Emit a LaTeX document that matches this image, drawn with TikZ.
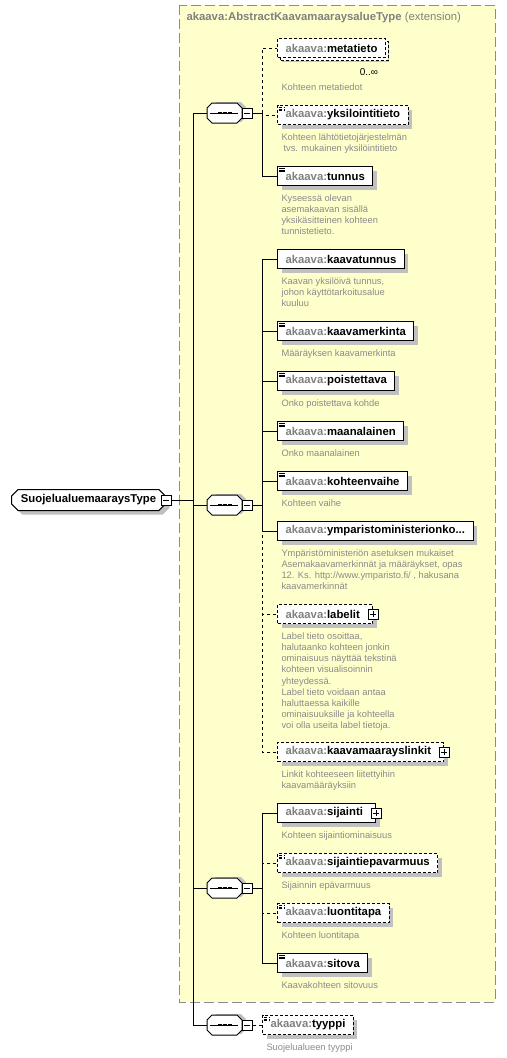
\documentclass[tikz,border=0pt]{standalone}
\usepackage{fontspec}
\setmainfont{Liberation Sans}
\usetikzlibrary{positioning,shapes.misc,shadows,calc}
\definecolor{extfill}{HTML}{FFFFCC}
\definecolor{extline}{HTML}{8C8C8C}
\definecolor{nsgrey}{HTML}{808080}
\definecolor{descgrey}{HTML}{8A8A8A}
\definecolor{shadowgrey}{HTML}{C0C0C0}
\newcommand\ns[1]{{\color{nsgrey}akaava:}#1}
\begin{document}
\begin{tikzpicture}[x=0.75pt,y=-0.75pt,line width=0.75pt,
		every node/.style={font=\fontsize{8.5}{10}\selectfont\bfseries},
		shade/.style={drop shadow={shadow xshift=3pt,shadow yshift=-3pt,fill=shadowgrey,opacity=1}},
		elem/.style={draw,fill=white,shade,anchor=west,minimum height=14.25pt,inner xsep=6pt,inner ysep=0pt},
		opt/.style={dash pattern=on 2.25pt off 1.5pt},
		optline/.style={dash pattern=on 2.25pt off 2.25pt},
		doc/.style={path picture={
			\foreach \dy in {1.2,2.5,3.8}
				\draw[line width=0.5pt] ([shift={(1.1pt,-\dy pt)}]path picture bounding box.north west) -- ++(4.5pt,0);}},
		more/.style={execute at end node={\hspace{3.5pt}}},
		many/.style={copy shadow={shadow xshift=2.25pt,shadow yshift=-2.25pt,draw=black,fill=white,opt}},
		desc/.style={font=\fontsize{7}{8.4}\selectfont,text=descgrey,align=left,inner sep=0pt,anchor=north west},
		pmbox/.style={draw,fill=white,minimum size=7.5pt,inner sep=0pt},
		minus/.style={pmbox,path picture={
			\draw ([xshift=1.5pt]path picture bounding box.west) -- ([xshift=-1.5pt]path picture bounding box.east);}},
		plus/.style={pmbox,path picture={
			\draw ([xshift=1.5pt]path picture bounding box.west) -- ([xshift=-1.5pt]path picture bounding box.east);
			\draw ([yshift=-1.5pt]path picture bounding box.north) -- ([yshift=1.5pt]path picture bounding box.south);}},
		seq/.style={minimum width=26.25pt,minimum height=15pt,inner sep=0pt}]
	\useasboundingbox (0,0) rectangle (507,1058);
	%extension
	\draw[extline,fill=extfill,dash pattern=on 7.5pt off 3pt] (179,5) rectangle (495,1002);
	\node[anchor=west,text=nsgrey,inner sep=0pt] (ext) at (186,18) {akaava:AbstractKaavamaaraysalueType {\mdseries (extension)}};
	%root
	\node[draw,fill=white,shade,chamfered rectangle,chamfered rectangle xsep=2.5pt,chamfered rectangle ysep=2.5pt,
		anchor=west,minimum width=115.5pt,minimum height=15.75pt,inner xsep=1pt,inner ysep=0pt] (root) at (11,500) {SuojelualuemaaraysType\hspace{7pt}};
	\node[minus] (rootpm) at (root.east) {};
	%compositors
	\foreach \s/\y in {A/113,B/505,C/888,D/1025}{
		\node[seq] (seq\s) at (224.5,\y) {};
		\fill[shadowgrey] ($(seq\s)+(-13.5,-6)$) -- ++(5,-5) -- ++(25,0) -- ++(5,5) -- ++(0,10) -- ++(-5,5) -- ++(-25,0) -- ++(-5,-5) -- cycle;
		\draw[fill=white] ($(seq\s)+(-17.5,-5)$) -- ++(5,-5) -- ++(25,0) -- ++(5,5) -- ++(0,10) -- ++(-5,5) -- ++(-25,0) -- ++(-5,-5) -- cycle;
		\draw ($(seq\s)+(-14.5,0)$) -- ($(seq\s)+(13.5,0)$);
		\draw[line width=2.2pt,dash pattern=on 3pt off 0.75pt] ($(seq\s)+(-7,0)$) -- ($(seq\s)+(7,0)$);
		\node[minus] (pm\s) at (247,\y) {};
		\coordinate (b\s) at (262,\y);
		\coordinate (t\s) at (193,\y);
	}
	%elements
	\node[elem,opt,many] (metatieto) at (277,48) {\ns{metatieto}};
	\node[font=\fontsize{7.5}{9}\selectfont,inner sep=0pt] (metatieto-occ) at (369,72) {0..∞};
	\node[elem,opt,doc] (yksilo) at (277,115) {\ns{yksilointitieto}};
	\node[elem,doc] (tunnus) at (277,176) {\ns{tunnus}};
	\node[elem] (kaavatunnus) at (277,259) {\ns{kaavatunnus}};
	\node[elem,doc] (kmerkinta) at (277,331) {\ns{kaavamerkinta}};
	\node[elem,doc] (poistettava) at (277,381) {\ns{poistettava}};
	\node[elem,doc] (maanalainen) at (277,431) {\ns{maanalainen}};
	\node[elem,doc] (kvaihe) at (277,481) {\ns{kohteenvaihe}};
	\node[elem] (ymparisto) at (277,531) {\ns{ymparistoministerionko...}};
	\node[elem,opt,more] (labelit) at (277,614) {\ns{labelit}};
	\node[plus] (labelit-pm) at (labelit.east) {};
	\node[elem,opt,more] (klinkit) at (277,752) {\ns{kaavamaarayslinkit}};
	\node[plus] (klinkit-pm) at (klinkit.east) {};
	\node[elem,more] (sijainti) at (277,813) {\ns{sijainti}};
	\node[plus] (sijainti-pm) at (sijainti.east) {};
	\node[elem,opt,doc] (sepavarmuus) at (277,863) {\ns{sijaintiepavarmuus}};
	\node[elem,opt,doc] (luontitapa) at (277,913) {\ns{luontitapa}};
	\node[elem,doc] (sitova) at (277,963) {\ns{sitova}};
	\node[elem,opt,doc] (tyyppi) at (262,1025) {\ns{tyyppi}};
	%descriptions
	\node[desc,below right=6pt and 3pt of metatieto.south west,yshift=-13pt] (d-metatieto) {Kohteen metatiedot};
	\node[desc,below right=6pt and 3pt of yksilo.south west] (d-yksilo) {Kohteen lähtötietojärjestelmän\\\hspace*{1.5pt}tvs. mukainen yksilöintitieto};
	\node[desc,below right=6pt and 3pt of tunnus.south west] (d-tunnus) {Kyseessä olevan\\asemakaavan sisällä\\yksikäsitteinen kohteen\\tunnistetieto.};
	\node[desc,below right=6pt and 3pt of kaavatunnus.south west] (d-kaavatunnus) {Kaavan yksilöivä tunnus,\\johon käyttötarkoitusalue\\kuuluu};
	\node[desc,below right=6pt and 3pt of kmerkinta.south west] (d-kmerkinta) {Määräyksen kaavamerkinta};
	\node[desc,below right=6pt and 3pt of poistettava.south west] (d-poistettava) {Onko poistettava kohde};
	\node[desc,below right=6pt and 3pt of maanalainen.south west] (d-maanalainen) {Onko maanalainen};
	\node[desc,below right=6pt and 3pt of kvaihe.south west] (d-kvaihe) {Kohteen vaihe};
	\node[desc,below right=6pt and 3pt of ymparisto.south west] (d-ymparisto) {Ympäristöministeriön asetuksen mukaiset\\Asemakaavamerkinnät ja määräykset, opas\\12. Ks. http://www.ymparisto.fi/ , hakusana\\kaavamerkinnät};
	\node[desc,below right=6pt and 3pt of labelit.south west] (d-labelit) {Label tieto osoittaa,\\halutaanko kohteen jonkin\\ominaisuus näyttää tekstinä\\kohteen visualisoinnin\\yhteydessä.\\Label tieto voidaan antaa\\haluttaessa kaikille\\ominaisuuksille ja kohteella\\voi olla useita label tietoja.};
	\node[desc,below right=6pt and 3pt of klinkit.south west] (d-klinkit) {Linkit kohteeseen liitettyihin\\kaavamääräyksiin};
	\node[desc,below right=6pt and 3pt of sijainti.south west] (d-sijainti) {Kohteen sijaintiominaisuus};
	\node[desc,below right=6pt and 3pt of sepavarmuus.south west] (d-sepavarmuus) {Sijainnin epävarmuus};
	\node[desc,below right=6pt and 3pt of luontitapa.south west] (d-luontitapa) {Kohteen luontitapa};
	\node[desc,below right=6pt and 3pt of sitova.south west] (d-sitova) {Kaavakohteen sitovuus};
	\node[desc,below right=6pt and 3pt of tyyppi.south west] (d-tyyppi) {Suojelualueen tyyppi};
	%trunk
	\draw (rootpm.east) -- (rootpm.east -| tA);
	\draw (tA) -- (tD);
	\foreach \s in {A,B,C,D}{
		\draw (t\s) -- (seq\s.west);
	}
	\foreach \s in {A,B,C}{
		\draw (pm\s.east) -- (b\s);
	}
	%branches
	\draw[optline] (bA) |- (metatieto.west);
	\draw[optline] (bA) |- (yksilo.west);
	\draw (bA) |- (tunnus.west);
	\foreach \e in {kaavatunnus,kmerkinta,poistettava,maanalainen,kvaihe,ymparisto}
		\draw (bB) |- (\e.west);
	\draw[optline] (bB) |- (labelit.west);
	\draw[optline] (bB) |- (klinkit.west);
	\draw[optline] (bC) |- (sepavarmuus.west);
	\draw[optline] (bC) |- (luontitapa.west);
	\draw (bC) |- (sijainti.west);
	\draw (bC) |- (sitova.west);
	\draw[optline] (pmD.east) -- (tyyppi.west);
\end{tikzpicture}
\end{document}
